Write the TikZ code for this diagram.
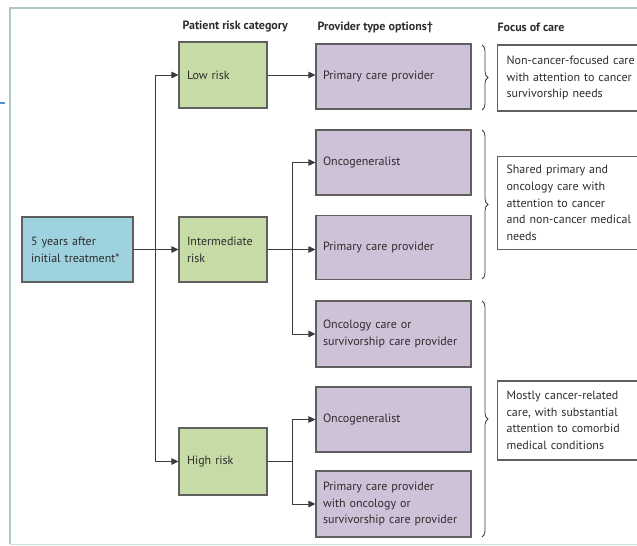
\documentclass[tikz,border=0pt]{standalone}
\usepackage{fontspec}
\setmainfont{PT Sans}
\usetikzlibrary{arrows.meta,decorations.pathreplacing}
\definecolor{gfill}{RGB}{199,219,166}
\definecolor{pfill}{RGB}{207,193,215}
\definecolor{bfill}{RGB}{158,210,222}
\definecolor{edgec}{RGB}{95,95,95}
\definecolor{ink}{RGB}{45,45,45}
\definecolor{linec}{RGB}{60,60,60}
\definecolor{framec}{RGB}{170,203,195}
\definecolor{markc}{RGB}{90,143,214}
\begin{document}
\begin{tikzpicture}[x=1pt,y=-1pt,
  every node/.style={font=\fontsize{12}{16.7}\selectfont, text=ink},
  box/.style={draw=edgec, line width=1.1pt, align=left, anchor=center},
  riskbox/.style={box, fill=gfill, minimum width=88pt, inner xsep=8pt, text width=72pt},
  startbox/.style={box, fill=bfill, minimum width=111pt, inner xsep=9pt, text width=93pt},
  provbox/.style={box, fill=pfill, minimum width=155pt, inner xsep=7pt, text width=141pt},
  focusbox/.style={box, fill=white, minimum width=170pt, inner xsep=9pt, text width=152pt, anchor=west},
  head/.style={font=\fontsize{12}{14}\selectfont\bfseries, anchor=west},
  arr/.style={draw=linec, line width=0.9pt, -{Triangle[length=7pt,width=6.5pt]}},
  ln/.style={draw=linec, line width=0.9pt},
  brc/.style={draw=linec, line width=0.8pt, decorate, decoration={brace, amplitude=6pt}}
]
\useasboundingbox (0,0) rectangle (637,546);
\begin{scope}
\clip (0,0) rectangle (637,546);
% frame
\draw[framec, line width=1.2pt] (10,544) -- (10,8) -- (645,8);
\draw[framec!60, line width=1pt] (10,544.5) -- (645,544.5);
\draw[markc, line width=2.5pt] (0,103) -- (5,103);

% headers
\node[head] (h1) at (179,27) {Patient risk category};
\node[head] (h2) at (314,27) {Provider type options†};
\node[head] (h3) at (494,27) {Focus of care};

% start
\node[startbox, minimum height=65pt] (five) at (77.5,249.5) {5 years after\\initial treatment*};

% risk
\node[riskbox, minimum height=66pt] (low) at (223,75) {Low risk};
\node[riskbox, minimum height=65pt] (inter) at (223,249.5) {Intermediate\\risk};
\node[riskbox, minimum height=67pt] (high) at (223,461.5) {High risk};

% providers
\node[provbox, minimum height=65pt] (p1) at (393.5,76.5) {Primary care provider};
\node[provbox, minimum height=65pt] (o1) at (393.5,162.5) {Oncogeneralist};
\node[provbox, minimum height=64pt] (p2) at (393.5,247.5) {Primary care provider};
\node[provbox, minimum height=66pt] (oc) at (393.5,334) {Oncology care or\\survivorship care provider};
\node[provbox, minimum height=65pt] (o2) at (393.5,419.5) {Oncogeneralist};
\node[provbox, minimum height=66pt] (po) at (393.5,504) {Primary care provider\\with oncology or\\survivorship care provider};

% focus
\node[focusbox, minimum height=66pt] (f1) at (497,78) {Non-cancer-focused care\\with attention to cancer\\survivorship needs};
\node[focusbox, minimum height=93pt] (f2) at (497,203) {Shared primary and\\oncology care with\\attention to cancer\\and non-cancer medical\\needs};
\node[focusbox, minimum height=79pt] (f3) at (497,420.5) {Mostly cancer-related\\care, with substantial\\attention to comorbid\\medical conditions};

% connectors from start
\coordinate (t1) at (155,249.5);
\draw[arr] (five.east) -- (inter.west);
\draw[arr] (t1) |- (low.west);
\draw[arr] (t1) |- (high.west);

% low
\draw[arr] (low.east) -- (p1.west |- low.east);

% intermediate
\coordinate (t2) at (292,249.5);
\draw[arr] (inter.east) -- (p2.west |- inter.east);
\draw[arr] (t2) |- (o1.west);
\draw[arr] (t2) |- (oc.west);

% high
\coordinate (t3) at (292,461.5);
\draw[ln] (high.east) -- (t3);
\draw[arr] (t3) |- (o2.west);
\draw[arr] (t3) |- (po.west);

% braces
\draw[brc] (482,45) -- (482,110);
\draw[brc] (482,130) -- (482,279);
\draw[brc] (482,301) -- (482,537);
\end{scope}
\end{tikzpicture}
\end{document}
